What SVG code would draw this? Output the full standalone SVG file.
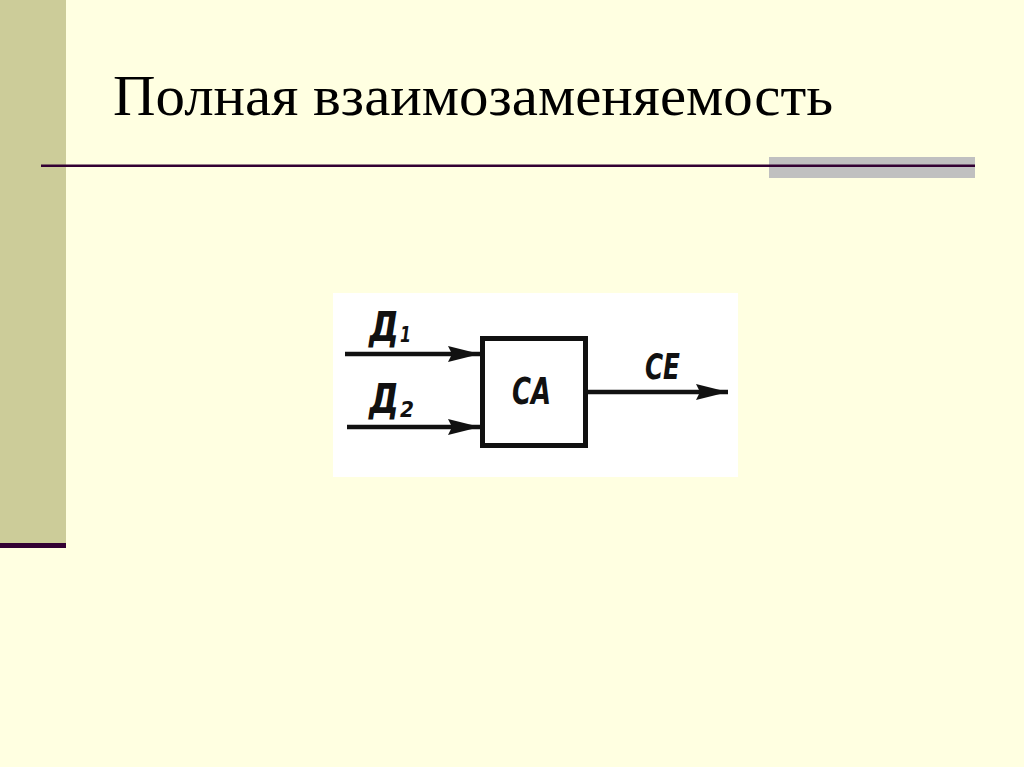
<svg xmlns="http://www.w3.org/2000/svg" width="1024" height="767" viewBox="0 0 1024 767">
<defs>
<style>
.lbl{font-family:"Liberation Sans Narrow","DejaVu Sans Condensed","Liberation Sans",sans-serif;font-weight:bold;font-style:italic;fill:#111;}
.wire{stroke:#111;stroke-width:4.5;fill:none;}
</style>
<marker id="ah" markerUnits="userSpaceOnUse" markerWidth="34" markerHeight="20" refX="32" refY="10" orient="auto">
<path d="M0,2 L32,10 L0,18 L4,10 z" fill="#111"/>
</marker>
</defs>
<rect x="0" y="0" width="1024" height="767" fill="#FFFFE1"/>
<rect x="0" y="0" width="66" height="543" fill="#CCCC99"/>
<rect x="0" y="543" width="66" height="5" fill="#330033"/>
<rect x="769" y="157" width="206" height="21" fill="#C0C0C0"/>
<rect x="41" y="164.5" width="934" height="2.5" fill="#330033"/>
<text x="113" y="115" font-family="'Liberation Serif','Times New Roman',serif" font-size="58" fill="#000" textLength="720" lengthAdjust="spacingAndGlyphs">Полная взаимозаменяемость</text>
<rect x="333" y="293" width="405" height="184" fill="#FFFFFF"/>
<g id="connectors">
<line class="wire" x1="345" y1="354" x2="480" y2="354" marker-end="url(#ah)"/>
<line class="wire" x1="347" y1="427" x2="480" y2="427" marker-end="url(#ah)"/>
<line class="wire" x1="588" y1="392" x2="728" y2="392" marker-end="url(#ah)"/>
</g>
<g id="node-CA">
<rect x="482.5" y="338.5" width="103" height="107" fill="#FFFFFF" stroke="#111" stroke-width="5"/>
<text class="lbl" x="512" y="404" font-size="38" textLength="39" lengthAdjust="spacingAndGlyphs">CA</text>
</g>
<g id="label-D1">
<text class="lbl" x="369" y="341" font-size="40" textLength="30" lengthAdjust="spacingAndGlyphs">Д</text>
<text class="lbl" x="400" y="342" font-size="22" textLength="11" lengthAdjust="spacingAndGlyphs">1</text>
</g>
<g id="label-D2">
<text class="lbl" x="369" y="413" font-size="40" textLength="30" lengthAdjust="spacingAndGlyphs">Д</text>
<text class="lbl" x="400" y="417" font-size="22" textLength="14" lengthAdjust="spacingAndGlyphs">2</text>
</g>
<g id="label-CE">
<text class="lbl" x="645" y="379" font-size="36" textLength="35" lengthAdjust="spacingAndGlyphs">CE</text>
</g>
</svg>
